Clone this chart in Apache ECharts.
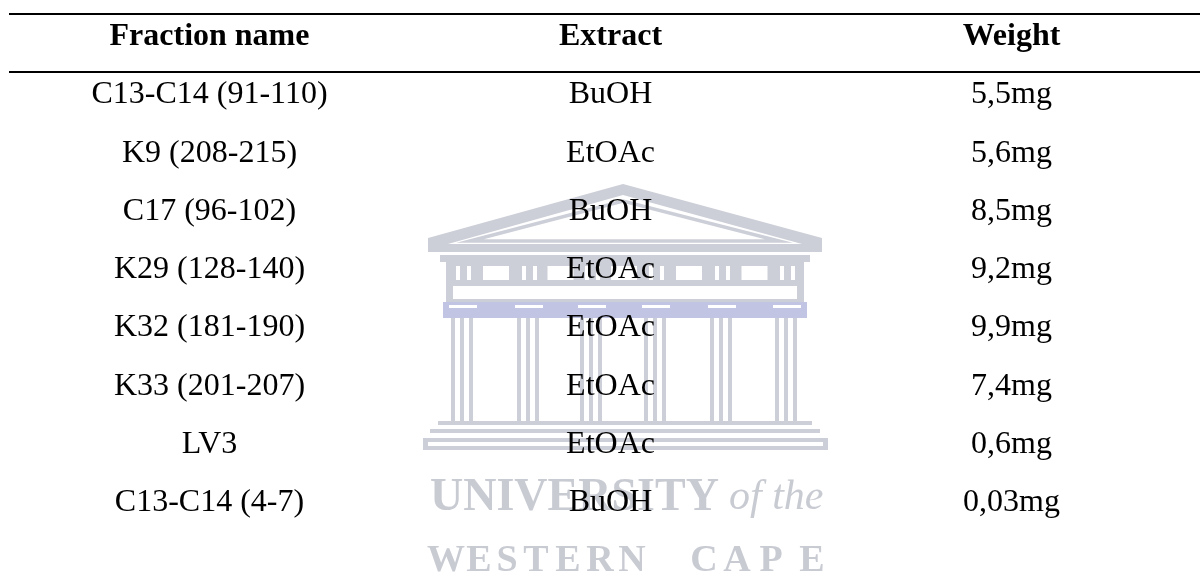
<!DOCTYPE html>
<html>
<head>
<meta charset="utf-8">
<script src="https://cdn.jsdelivr.net/npm/echarts@6/dist/echarts.min.js"></script>
<style>
html,body{margin:0;padding:0;background:#fff;}
#main{width:1200px;height:572px;}
</style>
</head>
<body>
<div id="main"></div>
<script>
// ---- table data ----
const columns = ['Fraction name', 'Extract', 'Weight'];
const fractionNames = ['C13-C14 (91-110)', 'K9 (208-215)', 'C17 (96-102)', 'K29 (128-140)', 'K32 (181-190)', 'K33 (201-207)', 'LV3', 'C13-C14 (4-7)'];
const extracts = ['BuOH', 'EtOAc', 'BuOH', 'EtOAc', 'EtOAc', 'EtOAc', 'EtOAc', 'BuOH'];
const weights = ['5,5mg', '5,6mg', '8,5mg', '9,2mg', '9,9mg', '7,4mg', '0,6mg', '0,03mg'];
// horizontal rules (in row units): top rule, rule under header
const ruleRows = [-0.386, 0.609];

const headerData = columns.map((c, i) => [i, 0, c]);
const bodyData = [];
fractionNames.forEach((n, r) => {
  bodyData.push([0, r + 1, n]);
  bodyData.push([1, r + 1, extracts[r]]);
  bodyData.push([2, r + 1, weights[r]]);
});

// ---- decorative watermark (University of the Western Cape) ----
const WM = '#cdcfd8';
const WMT = '#c9cbd3';
function watermark() {
  const els = [];
  // pediment
  els.push({type: 'polygon', shape: {points: [[428, 252], [428, 238], [623, 184], [822, 238], [822, 252]]}, style: {fill: WM}});
  els.push({type: 'polygon', shape: {points: [[448, 244], [623, 195], [802, 244]]}, style: {fill: '#fff'}});
  els.push({type: 'polygon', shape: {points: [[470, 241], [623, 201], [779, 241]]}, style: {fill: '#fff', stroke: WM, lineWidth: 3.5}});
  els.push({type: 'rect', shape: {x: 434, y: 252, width: 382, height: 3}, style: {fill: '#fff'}});
  els.push({type: 'rect', shape: {x: 440, y: 255, width: 370, height: 7}, style: {fill: WM}});
  // frieze
  els.push({type: 'rect', shape: {x: 446, y: 261, width: 358, height: 41}, style: {fill: WM}});
  const cols = [463, 529, 592, 656, 722, 787];
  cols.forEach(c => {
    els.push({type: 'rect', shape: {x: c - 7, y: 266, width: 4, height: 14}, style: {fill: '#fff'}});
    els.push({type: 'rect', shape: {x: c + 4, y: 266, width: 4, height: 14}, style: {fill: '#fff'}});
  });
  for (let i = 0; i < cols.length - 1; i++) {
    const m = (cols[i] + cols[i + 1]) / 2;
    els.push({type: 'rect', shape: {x: m - 13, y: 266, width: 26, height: 14}, style: {fill: '#fff'}});
  }
  els.push({type: 'rect', shape: {x: 453, y: 286, width: 344, height: 13}, style: {fill: '#fff'}});
  // architrave
  els.push({type: 'rect', shape: {x: 443, y: 302, width: 364, height: 16}, style: {fill: '#c1c5e3'}});
  cols.forEach(c => {
    els.push({type: 'rect', shape: {x: c - 14, y: 305, width: 28, height: 3}, style: {fill: '#fff'}});
    // column shafts
    [-10, -1, 8].forEach(o => {
      els.push({type: 'rect', shape: {x: c + o - 2, y: 318, width: 4, height: 104}, style: {fill: WM}});
    });
  });
  // steps
  els.push({type: 'rect', shape: {x: 438, y: 421, width: 374, height: 4}, style: {fill: WM}});
  els.push({type: 'rect', shape: {x: 430, y: 429, width: 390, height: 4}, style: {fill: WM}});
  els.push({type: 'rect', shape: {x: 423, y: 438, width: 405, height: 12}, style: {fill: WM}});
  els.push({type: 'rect', shape: {x: 428, y: 442, width: 395, height: 4}, style: {fill: '#fff'}});
  // text
  els.push({type: 'text', x: 430, y: 498, style: {text: 'UNIVERSITY', font: 'bold 46px "Liberation Serif"', fill: WMT, align: 'left', verticalAlign: 'middle'}});
  els.push({type: 'text', x: 729, y: 498, style: {text: 'of the', font: 'italic 42px "Liberation Serif"', fill: WMT, align: 'left', verticalAlign: 'middle'}});
  const letters = [['W', 446], ['E', 479], ['S', 507], ['T', 536], ['E', 568], ['R', 600], ['N', 632], ['C', 704], ['A', 737], ['P', 771], ['E', 812]];
  letters.forEach(([t, x]) => {
    els.push({type: 'text', x: x, y: 561, style: {text: t, font: 'bold 38px "Liberation Serif"', fill: WMT, align: 'center', verticalAlign: 'middle'}});
  });
  return els;
}

const chart = echarts.init(document.getElementById('main'), null, {renderer: 'canvas'});
const labelBase = {
  show: true,
  position: 'inside',
  formatter: p => p.data[2],
  color: '#000',
  fontFamily: '"Liberation Serif", "Times New Roman", serif',
  fontSize: 32,
  align: 'center',
  verticalAlign: 'middle'
};
chart.setOption({
  animation: false,
  backgroundColor: '#fff',
  graphic: {elements: watermark(), z: 0},
  grid: {left: 9, right: 0, top: 0, bottom: 0},
  xAxis: {type: 'value', min: -0.5, max: 2.47, show: false},
  yAxis: {type: 'value', min: -0.626, max: 9.185, inverse: true, show: false},
  series: [
    {
      type: 'scatter',
      z: 5,
      symbolSize: 0,
      itemStyle: {opacity: 1},
      data: headerData,
      label: Object.assign({}, labelBase, {fontWeight: 'bold'}),
      markLine: {
        silent: true,
        symbol: 'none',
        label: {show: false},
        lineStyle: {color: '#000', width: 2, type: 'solid', opacity: 1},
        data: ruleRows.map(v => ({yAxis: v}))
      }
    },
    {
      type: 'scatter',
      z: 5,
      symbolSize: 0,
      itemStyle: {opacity: 1},
      data: bodyData,
      label: labelBase
    }
  ]
});
</script>
</body>
</html>
